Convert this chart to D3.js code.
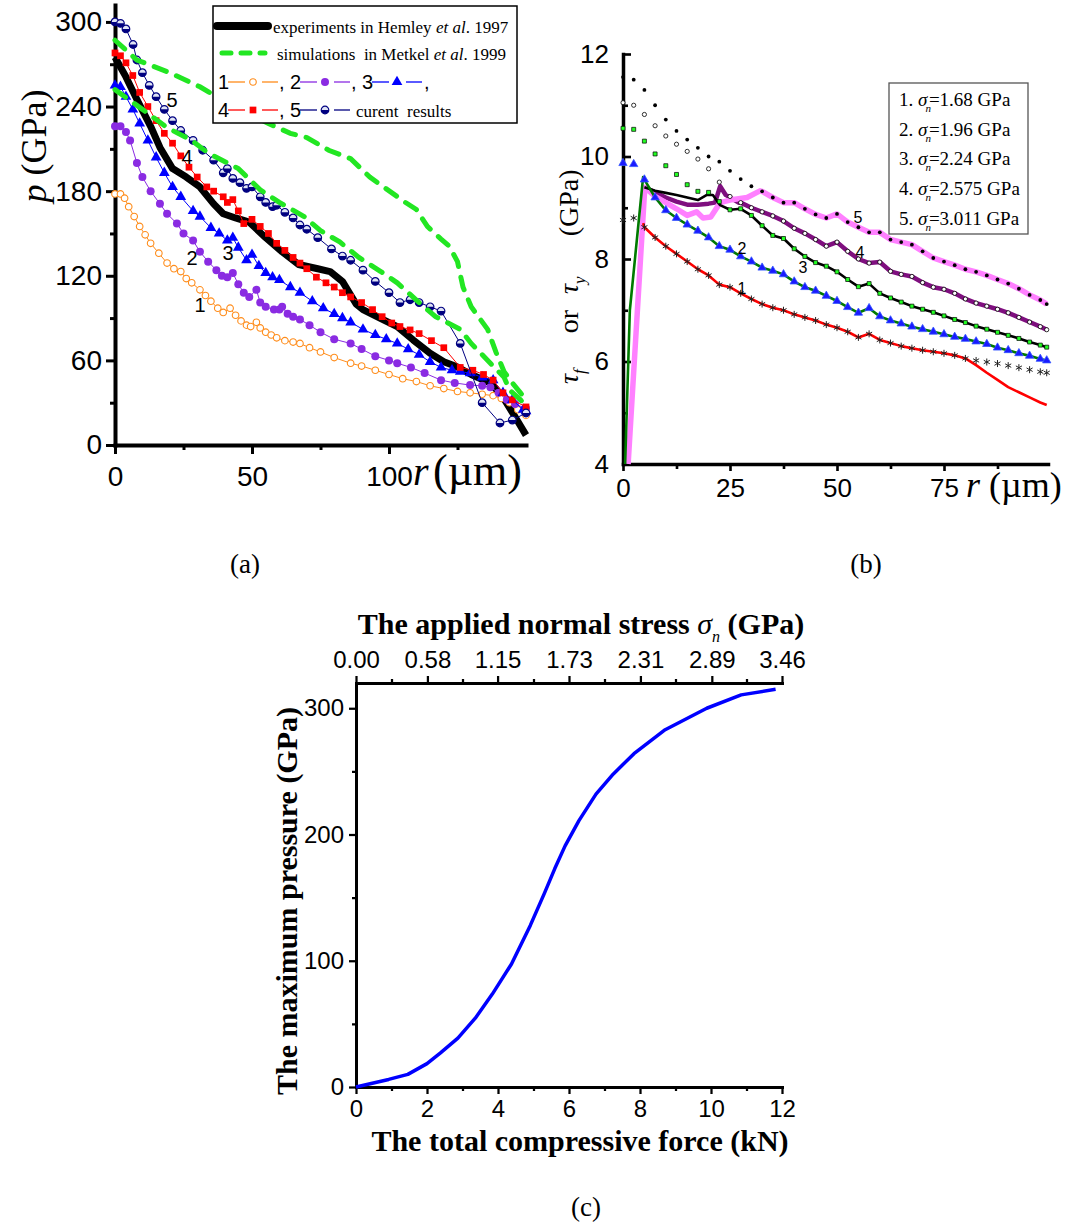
<!DOCTYPE html>
<html>
<head>
<meta charset="utf-8">
<script src="https://cdn.jsdelivr.net/npm/d3@7"></script>
<style>
  body { margin: 0; background: #fff; }
  svg { display: block; }
  text { white-space: pre; }
</style>
</head>
<body>
<svg width="1066" height="1224"></svg>
<script>
const SANS = 'Liberation Sans, Arial, sans-serif';
const SERIF = 'Liberation Serif, Times New Roman, serif';

// ---------- panel (a) data: pressure p (GPa) vs radius r (um)
const hemleyR = [0,4,8,13,16.4,21,26,31,36,39.5,44,49,55,61,67,74,78.5,83,88,90.5,96.7,103,108.8,115,120,124.8,130,137,141.6,146,150];
const hemleyP = [275,261,245,226,211,196,190,183,171,164,161,158,147,137,128,125,123,116,100,96,90,84,74.5,65,59,55.5,50,44,34,20,7];

const metkelUpR = [0,8,20,31,37,46,56,64,70,78,86,93,98,106,110,114,119,122,125,127,130,133,136,139,142,145,148,150];
const metkelUpP = [287,273,264,254,247,238,228,221,218,209,203,190,183,172,167,155,146,141,130,112,98,90,82,66,52,44,37,32];
const metkelLoR = [0,10,19,28,34,45,53,60,69,75,82,89,97,103,111,117,126,130,137,142,144,148,150];
const metkelLoP = [252,238,225,216,207,196,181,172,162,152,144,133,123,115,101,91,82,72,58,48,39,32,28];

const cur1R = [0,2,3.5,5,7,9,11,13,16,19,21.5,24,26,28,31,33,35,37.5,39.5,42,44,46,48,49.5,51.6,53,55,57,59,62,65,67.5,71,75,80,86,90,95,100,105,110,115,120,125,129.6,134,138,141,144,147,150];
const cur1P = [178,178,175,169,162,155,149,143,136,129,125,123,118,115,110,106,102,97,94,97,92,88,85,84,87,83,80,78,76,74,73,72,69,66,62,58,56,53,50,47,45,42,40,38,37,36,35,33,30,25,21];
const cur2R = [0,2,4,5.5,8,10,13,16.4,19,22.6,25,28.5,31,34,37,39,41,43,45,47,49,51.6,53,55,58,60,61,63,65,67.5,71,75,80,86,90,95,100,103,108,113,119,124,129.6,134,137,140,143,146,150];
const cur2P = [226,226,222,216,200,190,180,171,164,157,150,145,137,130,124,120,119,122,114,108,105,110,101,98,96,96,98,93,91,89,85,80,75,72,68,63,60,58,55,51,46,44,42.5,42,41,37,32,29,26];
const cur3R = [0,2,4,6.5,9,12,15,18,21,24,28.5,31,35,38,41,43,45,48,50,52.5,55,57.5,60,64,67.5,72,76,80,83,86,90.5,95,99,103,107,111,115,119,123,126,129.6,134,138,141.6,145,149,150];
const cur3P = [255,254,247,238,228,216,204,193,183,176,166,162,154,150,145,147,140,131,135,127,122,119,117,112,108,102,97,93,90,87,82,78,75,72,68,64,59,55,53,52,51,48,46,37,32,25,24];
const cur4R = [0,2,4,6.5,9,12,15,18,21,24,27,30,33.5,36,39.5,41,43,45,47,50,53,56,59,62,65,67.5,70,73.5,77,80,83,86,90,94,97.5,101,104,107.7,111,115.5,120,126,130.6,134.5,138,141.6,145,150];
const cur4P = [278,276,271,262,250,240,230,221,214,205,197,190,183,180,176,172,174,166,157,160,155,150,143,138,133,129,125,119,115,112,108,105,101,96,91,86.5,84,81.6,79,74,69,55,53,50,46,37,32,27];
const cur5R = [0,2,4,6.6,8,10,12.5,15,18,21,24,28.5,32,36,39.5,41,43,45.6,48,50,53,55,57.5,59,62,65,67.5,70,74,79,83,86,90.5,95,100,104,107.7,111,115,119,126,134,140.5,145,150];
const cur5P = [300,299,295,284,273,264,255,247,238,230,223,216,209,202,193,196,189,186,182,183,176,172,169,170,165,161,156,153,147,139,134,131,124,116,108,101,103,101,98,95,72,30,15.6,17.7,22.7];

const aXMajor = [0, 50, 100];
const aXMinor = [25, 75, 125];
const aYMajor = [0, 60, 120, 180, 240, 300];
const aYMinor = [30, 90, 150, 210, 270];

// ---------- panel (b) data: tau (GPa) vs r (um)
const rB = [0,2.5,5,7.5,10,12.5,15,17.5,20,22.5,25,27.5,30,32.5,35,37.5,40,42.5,45,47.5,50,52.5,55,57.5,60,62.5,65,67.5,70,72.5,75,77.5,80,82.5,85,87.5,90,92.5,95,97.5,99];
const tauY1 = [8.76,8.8,8.62,8.42,8.25,8.1,7.95,7.8,7.68,7.5,7.45,7.33,7.22,7.12,7.05,7.0,6.92,6.86,6.8,6.72,6.66,6.58,6.47,6.54,6.42,6.36,6.3,6.26,6.22,6.19,6.16,6.12,6.06,6.02,5.99,5.96,5.92,5.88,5.84,5.8,5.78];
const tauY2 = [9.87,9.85,9.55,9.2,8.95,8.8,8.67,8.55,8.42,8.25,8.18,8.05,7.95,7.83,7.77,7.7,7.56,7.45,7.38,7.28,7.18,7.06,6.95,7.04,6.88,6.8,6.74,6.68,6.63,6.58,6.53,6.48,6.44,6.39,6.34,6.27,6.22,6.16,6.11,6.05,6.02];
const tauY3 = [10.55,10.53,10.3,10.05,9.82,9.65,9.45,9.32,9.3,9.12,8.96,8.98,8.85,8.65,8.46,8.4,8.2,8.05,7.93,7.86,7.75,7.6,7.46,7.52,7.33,7.24,7.16,7.08,7.02,6.96,6.89,6.82,6.76,6.69,6.63,6.57,6.51,6.45,6.38,6.32,6.28];
const tauY4 = [11.05,11.0,10.82,10.6,10.4,10.24,10.1,9.95,9.76,9.5,9.22,9.1,9.0,8.92,8.84,8.74,8.6,8.5,8.38,8.25,8.33,8.15,8.0,7.92,7.94,7.76,7.7,7.66,7.54,7.45,7.41,7.33,7.22,7.14,7.08,7.02,6.95,6.86,6.77,6.68,6.62];
const tauY5 = [11.55,11.5,11.3,11.0,10.72,10.5,10.33,10.17,10.0,9.9,9.72,9.56,9.42,9.32,9.2,9.1,9.1,8.98,8.87,8.8,8.88,8.72,8.62,8.52,8.52,8.38,8.33,8.28,8.15,8.02,7.95,7.88,7.8,7.75,7.68,7.6,7.52,7.42,7.3,7.2,7.12];

// friction curves: own head (and tail), they run on the yield curve in between
const fric1HeadR = [4.7], fric1HeadT = [8.7];
const fric1TailR = [82.5,85,87.5,90,92.5,95,97.5,99];
const fric1TailT = [5.93,5.78,5.64,5.5,5.4,5.3,5.2,5.15];
const fric2HeadR = [0.5,1.6,4.7], fric2HeadT = [4,7,9.6];
const fric3HeadR = [5,7.5,10,12.5,15,17.5,19.6,21,22.7];
const fric3HeadT = [9.4,9.33,9.29,9.25,9.2,9.15,9.25,9.25,9.05];
const fric4HeadR = [5,7.5,10,12.5,15,17.5,20,21.5,22.7,24,27];
const fric4HeadT = [9.4,9.3,9.2,9.12,9.06,9.06,9.08,9.1,9.42,9.25,9.1];
const fric5HeadR = [1.2,5.1,7.5,10,12.5,15,17.2,18.7,20.5,22.7,25,29,32];
const fric5HeadT = [4,9.4,9.22,9.1,8.98,8.85,8.92,8.8,8.82,9.1,9.15,9.2,9.33];

const bXMajor = [0, 25, 50, 75];
const bXMinor = [12.5, 37.5, 62.5, 87.5];
const bYMajor = [4, 6, 8, 10, 12];
const bYMinor = [5, 7, 9, 11];
const sigmaLabels = ['1.68', '1.96', '2.24', '2.575', '3.011'];

// ---------- panel (c) data
const forceKN = [0,0.92,1.46,2.0,2.38,2.87,3.36,3.84,4.38,4.91,5.3,5.6,5.89,6.28,6.76,7.25,7.83,8.71,9.88,10.85,11.82];
const pMax = [0,6,10,18.5,27,38.7,54.5,73.6,97.4,128,153,173,191,211,232,248,264,283,300,310.6,315];
const cXMajor = [0, 2, 4, 6, 8, 10, 12];
const cXMinor = [1, 3, 5, 7, 9, 11];
const cYMajor = [0, 100, 200, 300];
const cYMinor = [50, 150, 250];
const sigmaTicks = [0, 0.58, 1.15, 1.73, 2.31, 2.89, 3.46];

const svg = d3.select('svg');

function axisStyle(g, size, width) {
  g.attr('font-size', size).attr('font-family', SANS);
  g.select('.domain').attr('stroke-width', width).attr('stroke-linecap', 'square');
  g.selectAll('.tick line').attr('stroke-width', width * 0.75);
  g.selectAll('.tick text').attr('fill', '#000');
}
function minor(g, width) {
  g.select('.domain').remove();
  g.selectAll('.tick line').attr('stroke-width', width * 0.75);
}

/* ================= panel (a) ================= */
const xA = d3.scaleLinear().domain([0, 150]).range([115, 526]);
const yA = d3.scaleLinear().domain([0, 312]).range([445, 5]);
const lineA = d3.line().x(d => xA(d[0])).y(d => yA(d[1]));

svg.append('g').attr('transform', 'translate(0,445)')
  .call(d3.axisBottom(xA).tickValues(aXMinor).tickSize(5).tickFormat('').tickSizeOuter(0))
  .call(g => minor(g, 4));
svg.append('g').attr('transform', 'translate(115,0)')
  .call(d3.axisLeft(yA).tickValues(aYMinor).tickSize(5).tickFormat('').tickSizeOuter(0))
  .call(g => minor(g, 4));
svg.append('g').attr('transform', 'translate(0,445)')
  .call(d3.axisBottom(xA).tickValues(aXMajor).tickSize(9).tickSizeOuter(0).tickPadding(12))
  .call(g => axisStyle(g, 28, 4));
svg.append('g').attr('transform', 'translate(115,0)')
  .call(d3.axisLeft(yA).tickValues(aYMajor).tickSize(9).tickSizeOuter(0).tickPadding(4))
  .call(g => axisStyle(g, 28, 4));

// axis titles
svg.append('text').attr('x', 413).attr('y', 485).attr('font-family', SERIF).attr('font-size', 40)
  .attr('font-style', 'italic').text('r');
svg.append('text').attr('x', 433).attr('y', 485).attr('font-family', SERIF).attr('font-size', 44)
  .text('(\u00b5m)');
svg.append('text').attr('transform', 'translate(46,146) rotate(-90)').attr('text-anchor', 'middle')
  .attr('font-family', SERIF).attr('font-size', 36)
  .call(t => {
    t.append('tspan').attr('font-style', 'italic').text('p');
    t.append('tspan').text(' (GPa)');
  });

const plotA = svg.append('g');
plotA.append('path').datum(d3.zip(hemleyR, hemleyP))
  .attr('fill', 'none').attr('stroke', '#000').attr('stroke-width', 7)
  .attr('stroke-linejoin', 'round').attr('d', lineA);

const curA = [
  { r: cur1R, p: cur1P, color: '#ff8c1a', mark: 'open' },
  { r: cur2R, p: cur2P, color: '#8a2be2', mark: 'dot' },
  { r: cur3R, p: cur3P, color: '#0000ff', mark: 'tri' },
  { r: cur4R, p: cur4P, color: '#ff0000', mark: 'sq' },
  { r: cur5R, p: cur5P, color: '#000080', mark: 'half' }
];

function drawMark(g, kind, color) {
  if (kind === 'open') {
    g.append('circle').attr('r', 3.3).attr('fill', '#fff').attr('stroke', color).attr('stroke-width', 1.1);
  } else if (kind === 'dot') {
    g.append('circle').attr('r', 4).attr('fill', color);
  } else if (kind === 'tri') {
    g.append('path').attr('d', d3.symbol(d3.symbolTriangle, 50)()).attr('fill', color);
  } else if (kind === 'sq') {
    g.append('path').attr('d', d3.symbol(d3.symbolSquare, 45)()).attr('fill', color);
  } else if (kind === 'half') {
    g.append('circle').attr('r', 3.8).attr('fill', '#dfe3f5').attr('stroke', color).attr('stroke-width', 1.2);
    g.append('path').attr('fill', color)
      .attr('d', d3.arc()({ innerRadius: 0, outerRadius: 3.8, startAngle: Math.PI / 2, endAngle: Math.PI * 1.5 }));
  }
}

curA.forEach(s => {
  const pts = d3.zip(s.r, s.p);
  plotA.append('path').datum(pts).attr('fill', 'none').attr('stroke', s.color)
    .attr('stroke-width', 1).attr('d', lineA);
  plotA.selectAll(null).data(pts).enter().append('g')
    .attr('transform', d => `translate(${xA(d[0])},${yA(d[1])})`)
    .each(function () { drawMark(d3.select(this), s.mark, s.color); });
});

[[metkelUpR, metkelUpP], [metkelLoR, metkelLoP]].forEach(([r, p]) => {
  plotA.append('path').datum(d3.zip(r, p))
    .attr('fill', 'none').attr('stroke', '#22e622').attr('stroke-width', 5)
    .attr('stroke-dasharray', '13,11').attr('stroke-linecap', 'round').attr('d', lineA);
});

// curve numbers
[['5', 172, 107], ['4', 187, 164], ['3', 228, 260], ['2', 192, 265], ['1', 200, 312]].forEach(([s, x, y]) => {
  svg.append('text').attr('x', x).attr('y', y).attr('text-anchor', 'middle')
    .attr('font-family', SANS).attr('font-size', 20).text(s);
});

// legend (a)
const legA = svg.append('g');
legA.append('rect').attr('x', 213).attr('y', 6).attr('width', 304).attr('height', 117)
  .attr('fill', '#fff').attr('stroke', '#000').attr('stroke-width', 1.5);
legA.append('line').attr('x1', 217).attr('x2', 268).attr('y1', 26).attr('y2', 26)
  .attr('stroke', '#000').attr('stroke-width', 8).attr('stroke-linecap', 'round');
legA.append('text').attr('x', 273).attr('y', 33).attr('font-family', SERIF).attr('font-size', 17)
  .call(t => {
    t.append('tspan').text('experiments in Hemley ');
    t.append('tspan').attr('font-style', 'italic').text('et al');
    t.append('tspan').text('. 1997');
  });
legA.append('line').attr('x1', 222).attr('x2', 265).attr('y1', 53).attr('y2', 53)
  .attr('stroke', '#22e622').attr('stroke-width', 5).attr('stroke-dasharray', '9,10').attr('stroke-linecap', 'round');
legA.append('text').attr('x', 277).attr('y', 60).attr('font-family', SERIF).attr('font-size', 17)
  .call(t => {
    t.append('tspan').text('simulations  in Metkel ');
    t.append('tspan').attr('font-style', 'italic').text('et al');
    t.append('tspan').text('. 1999');
  });

const legRows = [
  { y: 82, items: [{ n: '1', x: 218, c: 0 }, { n: ', 2', x: 279, c: 1 }, { n: ', 3', x: 351, c: 2 }] },
  { y: 110, items: [{ n: '4', x: 218, c: 3 }, { n: ', 5', x: 279, c: 4 }] }
];
legRows.forEach(row => {
  row.items.forEach(it => {
    const s = curA[it.c];
    const x0 = it.n.length > 1 ? it.x + 21 : it.x + 10;
    legA.append('text').attr('x', it.x).attr('y', row.y + 7).attr('font-family', SANS)
      .attr('font-size', 20).text(it.n);
    [[x0, x0 + 17], [x0 + 34, x0 + 50]].forEach(([a, b]) => {
      legA.append('line').attr('x1', a).attr('x2', b).attr('y1', row.y).attr('y2', row.y)
        .attr('stroke', s.color).attr('stroke-width', 1.3);
    });
    const m = legA.append('g').attr('transform', `translate(${x0 + 25},${row.y})`);
    drawMark(m, s.mark, s.color);
  });
});
legA.append('text').attr('x', 424).attr('y', 89).attr('font-family', SANS).attr('font-size', 20).text(',');
legA.append('text').attr('x', 356).attr('y', 117).attr('font-family', SERIF).attr('font-size', 17).text('curent  results');

/* ================= panel (b) ================= */
const xB = d3.scaleLinear().domain([0, 99.3]).range([623, 1048]);
const yB = d3.scaleLinear().domain([4, 12]).range([464, 54]);
const lineB = d3.line().x(d => xB(d[0])).y(d => yB(d[1]));

svg.append('g').attr('transform', 'translate(0,464)')
  .call(d3.axisBottom(xB).tickValues(bXMinor).tickSize(5).tickFormat('').tickSizeOuter(0))
  .call(g => minor(g, 3.5));
svg.append('g').attr('transform', 'translate(623,0)')
  .call(d3.axisLeft(yB).tickValues(bYMinor).tickSize(-5).tickFormat('').tickSizeOuter(0))
  .call(g => minor(g, 3.5));
svg.append('g').attr('transform', 'translate(0,464)')
  .call(d3.axisBottom(xB).tickValues(bXMajor).tickSize(7).tickSizeOuter(0).tickPadding(8))
  .call(g => axisStyle(g, 26, 3.5));
svg.append('g').attr('transform', 'translate(623,0)')
  .call(d3.axisLeft(yB).tickValues(bYMajor).tickSize(-8).tickSizeOuter(0).tickPadding(14))
  .call(g => axisStyle(g, 26, 3.5));

svg.append('text').attr('x', 966).attr('y', 497).attr('font-family', SERIF).attr('font-size', 36)
  .call(t => {
    t.append('tspan').attr('font-style', 'italic').text('r');
    t.append('tspan').text(' (\u00b5m)');
  });
svg.append('text').attr('transform', 'translate(578,384) rotate(-90)')
  .attr('font-family', SERIF).attr('font-size', 28)
  .call(t => {
    t.append('tspan').attr('font-style', 'italic').text('\u03c4');
    t.append('tspan').attr('font-style', 'italic').attr('font-size', 17).attr('dy', 7).text('f');
    t.append('tspan').attr('dy', -7).attr('dx', 36).text('or');
    t.append('tspan').attr('dx', 16).attr('font-style', 'italic').text('\u03c4');
    t.append('tspan').attr('font-style', 'italic').attr('font-size', 17).attr('dy', 7).text('y');
    t.append('tspan').attr('dy', -7).attr('dx', 40).text('(GPa)');
  });

const yields = [tauY1, tauY2, tauY3, tauY4, tauY5].map(v => d3.zip(rB, v));
function frictionCurve(yPts, headR, headT, tailR, tailT) {
  const head = d3.zip(headR, headT);
  const tail = tailR ? d3.zip(tailR, tailT) : [];
  const start = headR[headR.length - 1];
  const stop = tailR ? tailR[0] : Infinity;
  return head.concat(yPts.filter(d => d[0] > start && d[0] < stop), tail);
}
const frictions = [
  { pts: frictionCurve(yields[0], fric1HeadR, fric1HeadT, fric1TailR, fric1TailT), color: '#ff0000', w: 2.6 },
  { pts: frictionCurve(yields[1], fric2HeadR, fric2HeadT), color: '#007a00', w: 2.6 },
  { pts: frictionCurve(yields[2], fric3HeadR, fric3HeadT), color: '#000', w: 2.6 },
  { pts: frictionCurve(yields[3], fric4HeadR, fric4HeadT), color: '#7f0f7f', w: 4.5 },
  { pts: frictionCurve(yields[4], fric5HeadR, fric5HeadT), color: '#ff80ff', w: 5.5 }
];
const plotB = svg.append('g');
[3, 4, 2, 1, 0].forEach(i => {
  const f = frictions[i];
  plotB.append('path').datum(f.pts).attr('fill', 'none').attr('stroke', f.color)
    .attr('stroke-width', f.w).attr('stroke-linejoin', 'round').attr('d', lineB);
});

const yieldMarks = [
  s => s.append('path').attr('d', d3.symbol(d3.symbolAsterisk, 34)()).attr('fill', 'none').attr('stroke', '#222').attr('stroke-width', 1),
  s => s.append('path').attr('d', d3.symbol(d3.symbolTriangle, 30)()).attr('fill', '#1a1aff').attr('stroke', '#3355ff').attr('stroke-width', 0.8),
  s => s.append('path').attr('d', d3.symbol(d3.symbolSquare, 16)()).attr('fill', '#22ff22').attr('stroke', '#000').attr('stroke-width', 0.7),
  s => s.append('circle').attr('r', 2.1).attr('fill', '#fff').attr('stroke', '#000').attr('stroke-width', 0.8),
  s => s.append('circle').attr('r', 1.9).attr('fill', '#000')
];
yields.forEach((pts, i) => {
  plotB.selectAll(null).data(pts).enter().append('g')
    .attr('transform', d => `translate(${xB(d[0])},${yB(d[1])})`)
    .each(function () { yieldMarks[i](d3.select(this)); });
});

[['5', 858, 223], ['4', 860, 258], ['3', 803, 273], ['2', 742, 254], ['1', 742, 294]].forEach(([s, x, y]) => {
  svg.append('text').attr('x', x).attr('y', y).attr('text-anchor', 'middle')
    .attr('font-family', SANS).attr('font-size', 16).text(s);
});

// legend (b)
const legB = svg.append('g');
legB.append('rect').attr('x', 889).attr('y', 83).attr('width', 139).attr('height', 151)
  .attr('fill', '#fff').attr('stroke', '#555').attr('stroke-width', 1.3);
sigmaLabels.forEach((v, i) => {
  legB.append('text').attr('x', 899).attr('y', 106 + i * 29.7).attr('font-family', SERIF).attr('font-size', 19)
    .call(t => {
      t.append('tspan').text(`${i + 1}. `);
      t.append('tspan').attr('font-style', 'italic').text('\u03c3');
      t.append('tspan').attr('font-style', 'italic').attr('font-size', 11).attr('dy', 6).attr('dx', -2).text('n');
      t.append('tspan').attr('dy', -6).attr('dx', -2).text(`=${v} GPa`);
    });
});

/* ================= panel (c) ================= */
const xC = d3.scaleLinear().domain([0, 12]).range([356, 782]);
const sC = d3.scaleLinear().domain([0, 3.46]).range([356, 782]);
const yC = d3.scaleLinear().domain([0, 320]).range([1087, 683]);

svg.append('g').attr('transform', 'translate(0,1087)')
  .call(d3.axisBottom(xC).tickValues(cXMinor).tickSize(4).tickFormat('').tickSizeOuter(0))
  .call(g => minor(g, 3));
svg.append('g').attr('transform', 'translate(0,683)')
  .call(d3.axisTop(xC).tickValues(cXMinor).tickSize(4).tickFormat('').tickSizeOuter(0))
  .call(g => minor(g, 3));
svg.append('g').attr('transform', 'translate(356,0)')
  .call(d3.axisLeft(yC).tickValues(cYMinor).tickSize(4).tickFormat('').tickSizeOuter(0))
  .call(g => minor(g, 3));
svg.append('g').attr('transform', 'translate(0,1087)')
  .call(d3.axisBottom(xC).tickValues(cXMajor).tickSize(7).tickSizeOuter(0).tickPadding(6))
  .call(g => axisStyle(g, 24, 3));
svg.append('g').attr('transform', 'translate(0,683)')
  .call(d3.axisTop(sC).tickValues(sigmaTicks).tickSize(7).tickSizeOuter(0).tickPadding(8)
    .tickFormat(d3.format('.2f')))
  .call(g => axisStyle(g, 24, 3));
svg.append('g').attr('transform', 'translate(356,0)')
  .call(d3.axisLeft(yC).tickValues(cYMajor).tickSize(7).tickSizeOuter(0).tickPadding(5))
  .call(g => axisStyle(g, 24, 3));

svg.append('path').datum(d3.zip(forceKN, pMax))
  .attr('fill', 'none').attr('stroke', '#0000ff').attr('stroke-width', 3.5)
  .attr('stroke-linejoin', 'round')
  .attr('d', d3.line().x(d => xC(d[0])).y(d => yC(d[1])));

svg.append('text').attr('x', 581).attr('y', 634).attr('text-anchor', 'middle')
  .attr('font-family', SERIF).attr('font-weight', 'bold').attr('font-size', 30)
  .call(t => {
    t.append('tspan').text('The applied normal stress ');
    t.append('tspan').attr('font-style', 'italic').attr('font-weight', 'normal').text('\u03c3');
    t.append('tspan').attr('font-style', 'italic').attr('font-weight', 'normal').attr('font-size', 16).attr('dy', 8).text('n');
    t.append('tspan').attr('dy', -8).text(' (GPa)');
  });
svg.append('text').attr('x', 580).attr('y', 1151).attr('text-anchor', 'middle')
  .attr('font-family', SERIF).attr('font-weight', 'bold').attr('font-size', 30)
  .text('The total compressive force (kN)');
svg.append('text').attr('transform', 'translate(297,901) rotate(-90)').attr('text-anchor', 'middle')
  .attr('font-family', SERIF).attr('font-weight', 'bold').attr('font-size', 30)
  .text('The maximum pressure (GPa)');

// panel captions
[['(a)', 245, 573], ['(b)', 866, 573], ['(c)', 586, 1216]].forEach(([s, x, y]) => {
  svg.append('text').attr('x', x).attr('y', y).attr('text-anchor', 'middle')
    .attr('font-family', SERIF).attr('font-size', 27).text(s);
});
</script>
</body>
</html>
